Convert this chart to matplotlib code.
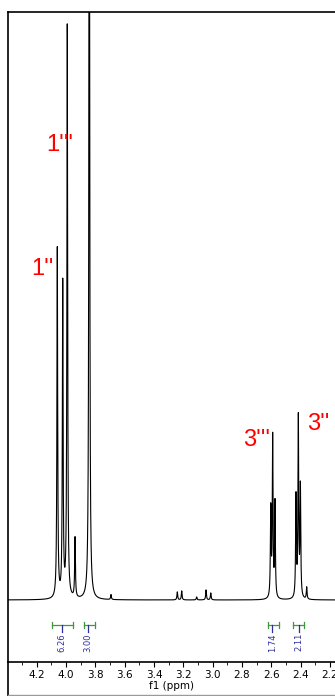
import numpy as np
import matplotlib
matplotlib.use("Agg")
import matplotlib.pyplot as plt
from matplotlib.lines import Line2D

# peak list (ppm, height in px above baseline)
peak_ppm = [4.059, 4.022, 3.991, 3.938, 3.841, 3.693,
            3.241, 3.211, 3.109, 3.045, 3.013,
            2.604, 2.591, 2.575, 2.432, 2.416, 2.402, 2.359]
peak_height = [350, 314, 572, 60, 1000, 5,
               8, 9, 3, 10, 7,
               88, 160, 95, 101, 179, 110, 12]
hwhm = 0.003

# integrals: (start, end, label position, value)
int_start = [4.096, 3.877, 2.620, 2.450]
int_end = [3.953, 3.802, 2.545, 2.377]
int_pos = [4.030, 3.848, 2.593, 2.413]
int_value = ["6.26", "3.00", "1.74", "2.11"]

labels = ["1'''", "1''", "3'''", "3''"]
label_x = [4.041, 4.163, 2.698, 2.282]
label_y = [455, 331, 160, 176]

major = [4.2, 4.0, 3.8, 3.6, 3.4, 3.2, 3.0, 2.8, 2.6, 2.4, 2.2]
minor = [4.3, 4.1, 3.9, 3.7, 3.5, 3.3, 3.1, 2.9, 2.7, 2.5, 2.3]

x = np.linspace(4.45, 2.1, 30000)
y = np.zeros_like(x)
for p, h in zip(peak_ppm, peak_height):
    y += h * hwhm**2 / ((x - p)**2 + hwhm**2)

W, H = 335, 696
fig = plt.figure(figsize=(W/100, H/100), dpi=100)
ax = fig.add_axes([8/W, (H-662)/H, (W-8)/W, 650/H])
ax.plot(x, y, color="black", lw=0.8)
ax.set_xlim(4.395, 2.166)
ax.set_ylim(-62, 588)
ax.spines["right"].set_visible(False)
for s in ["top", "left", "bottom"]:
    ax.spines[s].set_linewidth(1.2)
ax.set_yticks([])
ax.set_xticks(major)
ax.set_xticks(minor, minor=True)
ax.set_xticklabels(["%.1f" % t for t in major])
ax.tick_params(axis="x", which="major", direction="out", length=3.5, width=0.8,
               labelsize=7.5, pad=2)
ax.tick_params(axis="x", which="minor", direction="out", length=2, width=0.6)
ax.set_xlabel("f1 (ppm)", fontsize=7.5, labelpad=1)

green = "#3c9a3c"
blue = "#2e2e9e"
for a, b, c, v in zip(int_start, int_end, int_pos, int_value):
    ax.plot([a, b], [-25, -25], color=green, lw=0.9)
    ax.plot([a, a], [-22, -28], color=green, lw=0.9)
    ax.plot([b, b], [-22, -28], color=green, lw=0.9)
    ax.plot([c, c], [-25, -32], color=blue, lw=0.9)
    ax.text(c, -33, v, rotation=90, ha="center", va="top", fontsize=6, color=blue)

for t, lx, ly in zip(labels, label_x, label_y):
    ax.text(lx, ly, t, color="red", fontsize=17, ha="center", va="center",
            family="Liberation Sans")

# outer frame continuing below the axis
fig.add_artist(Line2D([8/W, 8/W], [0, (H-662)/H], color="black", lw=1.2))
fig.add_artist(Line2D([8/W, 1], [1.5/H, 1.5/H], color="#999999", lw=1.0))

fig.savefig("out.png", dpi=100)
